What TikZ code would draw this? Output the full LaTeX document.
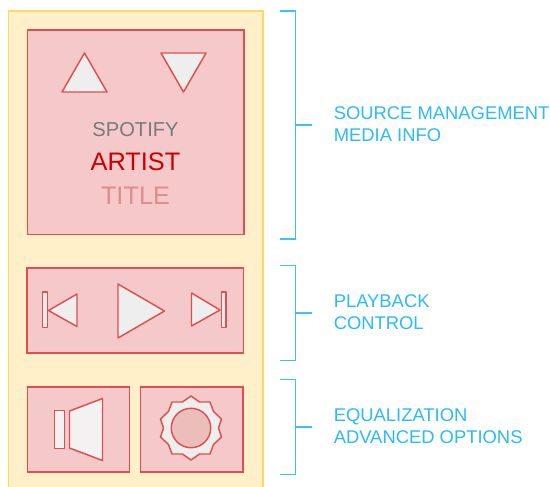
\documentclass[tikz,border=0pt]{standalone}
\usepackage{fontspec}
\setmainfont{Liberation Sans}
\definecolor{panelfill}{HTML}{FFF0C9}
\definecolor{panelline}{HTML}{FFD966}
\definecolor{boxfill}{HTML}{F5C9C9}
\definecolor{boxline}{HTML}{E04F4F}
\definecolor{iconfill}{HTML}{EEEEEE}
\definecolor{conefill}{HTML}{F3F1F1}
\definecolor{discfill}{HTML}{EBBDBB}
\definecolor{bracketline}{HTML}{40C0F8}
\definecolor{notetext}{HTML}{2BBBF6}
\definecolor{sourcetext}{HTML}{7A7A7A}
\definecolor{artisttext}{HTML}{CC0000}
\definecolor{titletext}{HTML}{E08C8C}
\tikzset{
  panel/.style={fill=panelfill,draw=panelline,line width=1.4pt},
  ctlbox/.style={fill=boxfill,draw=boxline,line width=1.4pt},
  icon/.style={fill=iconfill,draw=boxline,line width=1.1pt,line join=round},
  disc/.style={fill=discfill,draw=boxline,line width=1.1pt},
  bracket/.style={draw=bracketline,line width=1.2pt},
  note/.style={text=notetext,anchor=west,inner sep=0pt,align=left,font=\fontsize{13.8}{16.5}\selectfont},
  mediatext/.style={anchor=base,inner sep=0pt}
}
\begin{document}
\begin{tikzpicture}[x=0.75pt,y=-0.75pt]
\useasboundingbox (0,0) rectangle (550,486);
\clip (0,0) rectangle (550,486);
\fill[white] (0,0) rectangle (550,486);
% panel
\draw[panel] (8.5,11) rectangle (263,495);
% media box
\draw[ctlbox] (27.5,30) rectangle (244,234.5);
\draw[icon] (84.5,53) -- (107,92) -- (62,92) -- cycle;
\draw[icon] (161,53) -- (206,53) -- (183.5,92) -- cycle;
\node[mediatext,text=sourcetext,font=\fontsize{15.1}{18}\selectfont] (source) at (135.5,136.7) {SPOTIFY};
\node[mediatext,text=artisttext,font=\fontsize{19}{23}\selectfont] (artist) at (135.5,170.7) {ARTIST};
\node[mediatext,text=titletext,font=\fontsize{19}{23}\selectfont] (songtitle) at (135.5,204) {TITLE};
% playback box
\draw[ctlbox] (27,268) rectangle (243.5,353);
\draw[icon] (42.5,292) rectangle (47.5,327.7);
\draw[icon] (48.5,310.5) -- (77,294) -- (77,326.5) -- cycle;
\draw[icon] (118,284) -- (164.5,311) -- (118,338) -- cycle;
\draw[icon] (191.5,293) -- (220,310) -- (191.5,326) -- cycle;
\draw[icon] (221.5,292) rectangle (226,327.7);
% speaker box
\draw[ctlbox] (27.5,387) rectangle (129.5,472);
\draw[icon,fill=conefill] (54.5,410.7) rectangle (64.5,448.3);
\draw[icon,fill=conefill] (69.5,411) -- (102.5,398.5) -- (102.5,460.5) -- (69.5,448) -- cycle;
% settings box
\draw[ctlbox] (140.5,387) rectangle (243,472);
\draw[icon] (191,396) -- (199.5,402) -- (210,402) -- (213.5,411.5) -- (221.5,419) -- (218.5,428)
  -- (221.5,437) -- (213.5,444.5) -- (210,454) -- (199.5,454) -- (191,460)
  -- (182.5,454) -- (172,454) -- (168.5,444.5) -- (160.5,437) -- (163.5,428)
  -- (160.5,419) -- (168.5,411.5) -- (172,402) -- (182.5,402) -- cycle;
\draw[disc] (191,428) circle [radius=19.7];
% brackets
\draw[bracket] (280,10.7) -- (295.5,10.7) -- (295.5,238.7) -- (280,238.7);
\draw[bracket] (295.5,124.7) -- (312,124.7);
\draw[bracket] (280,265.3) -- (295.5,265.3) -- (295.5,360.3) -- (280,360.3);
\draw[bracket] (295.5,312.7) -- (312,312.7);
\draw[bracket] (280,379.3) -- (295.5,379.3) -- (295.5,474.3) -- (280,474.3);
\draw[bracket] (295.5,426.7) -- (312,426.7);
% notes
\node[note] (notemedia) at (333.5,124) {SOURCE MANAGEMENT\\MEDIA INFO};
\node[note] (noteplay) at (333.5,312) {PLAYBACK\\CONTROL};
\node[note] (noteeq) at (333.5,426) {EQUALIZATION\\ADVANCED OPTIONS};
\end{tikzpicture}
\end{document}
